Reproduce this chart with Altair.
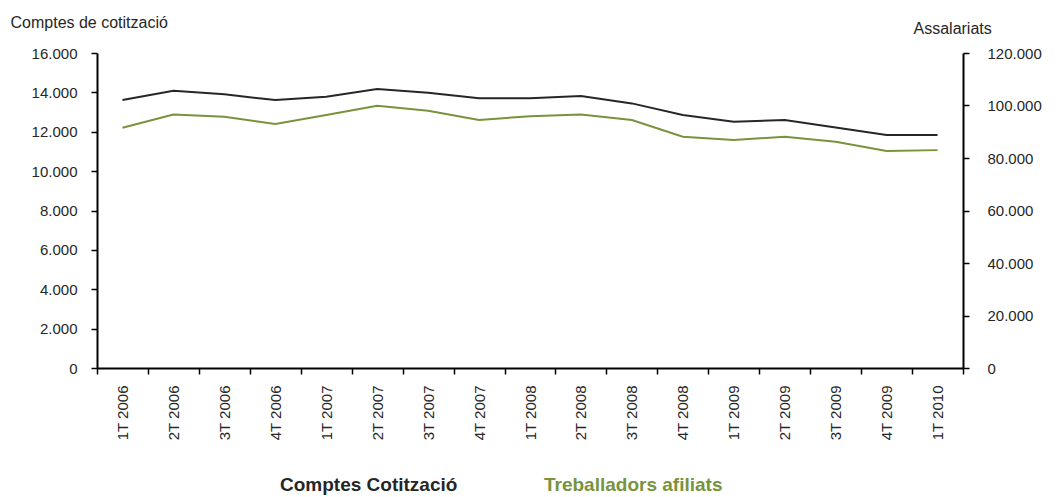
import altair as alt
import pandas as pd

quarters = ["1T 2006", "2T 2006", "3T 2006", "4T 2006", "1T 2007", "2T 2007",
            "3T 2007", "4T 2007", "1T 2008", "2T 2008", "3T 2008", "4T 2008",
            "1T 2009", "2T 2009", "3T 2009", "4T 2009", "1T 2010"]
comptes = [13610, 14080, 13900, 13610, 13780, 14170, 13980, 13700, 13700,
           13820, 13440, 12850, 12510, 12600, 12220, 11830, 11830]
treballadors = [91500, 96600, 95700, 93000, 96400, 99900, 98000, 94500, 95900,
                96600, 94500, 88100, 86900, 88100, 86200, 82700, 83000]
left_ticks = [0, 2000, 4000, 6000, 8000, 10000, 12000, 14000, 16000]
right_ticks = [0, 20000, 40000, 60000, 80000, 100000, 120000]
series = ["Comptes Cotització", "Treballadors afiliats"]
colors = ["#262626", "#77933c"]

df_left = pd.DataFrame({"q": quarters, "v": comptes, "s": series[0]})
df_right = pd.DataFrame({"q": quarters, "v": treballadors, "s": series[1]})

FONT = "Liberation Sans"
label_expr = "replace(format(datum.value, ','), ',', '.')"

x = alt.X("q:N", sort=quarters, bandPosition=0.5,
          scale=alt.Scale(type="band", paddingInner=0, paddingOuter=0),
          axis=alt.Axis(title=None, labelAngle=-90, labelFontSize=15, labelFont=FONT,
                        labelColor="#262626", labelPadding=11, tickSize=6,
                        tickBand="extent", tickColor="black", tickWidth=1.5,
                        domainColor="black", domainWidth=2, grid=False))

color = alt.Color(
    "s:N", scale=alt.Scale(domain=series, range=colors),
    legend=alt.Legend(
        title=None, orient="none", direction="horizontal", legendX=164, legendY=422,
        symbolSize=0, symbolOpacity=0, symbolStrokeWidth=0, labelOffset=0,
        columnPadding=67, labelFont=FONT, labelFontSize=19, labelFontWeight="bold",
        labelLimit=400,
        labelColor=alt.ExprRef(
            expr="datum.label === 'Comptes Cotització' ? '#262626' : '#77933c'")))

left = alt.Chart(df_left).mark_line(strokeWidth=2).encode(
    x=x,
    y=alt.Y("v:Q", scale=alt.Scale(domain=[0, 16000]),
            axis=alt.Axis(title="Comptes de cotització", titleAngle=0, titleAlign="left",
                          titleBaseline="alphabetic", titleX=-87, titleY=-26,
                          titleFont=FONT, titleFontSize=16, titleFontWeight="normal",
                          titleColor="#262626", values=left_ticks, labelExpr=label_expr,
                          labelFont=FONT, labelFontSize=15, labelColor="#262626",
                          labelPadding=14, tickSize=6, tickColor="black", tickWidth=1.5,
                          domainColor="black", domainWidth=2, grid=False)),
    color=color,
)

right = alt.Chart(df_right).mark_line(strokeWidth=2).encode(
    x=x,
    y=alt.Y("v:Q", scale=alt.Scale(domain=[0, 120000]),
            axis=alt.Axis(orient="right", title="Assalariats", titleAngle=0,
                          titleAlign="left", titleBaseline="alphabetic", titleX=-50,
                          titleY=-20, titleFont=FONT, titleFontSize=16,
                          titleFontWeight="normal", titleColor="#262626",
                          values=right_ticks, labelExpr=label_expr, labelFont=FONT,
                          labelFontSize=15, labelColor="#262626", labelPadding=18,
                          tickSize=6, tickColor="black", tickWidth=1.5,
                          domainColor="black", domainWidth=2, grid=False)),
    color=color,
)

chart = alt.layer(left, right).resolve_scale(y="independent").properties(
    width=866, height=315,
    autosize=alt.AutoSizeParams(type="none"),
    padding={"left": 89, "top": 45, "right": 80, "bottom": 127},
).configure(background="white").configure_view(stroke=None, strokeWidth=0)

chart.save("out.html", embed_options={"renderer": "svg", "actions": False})
